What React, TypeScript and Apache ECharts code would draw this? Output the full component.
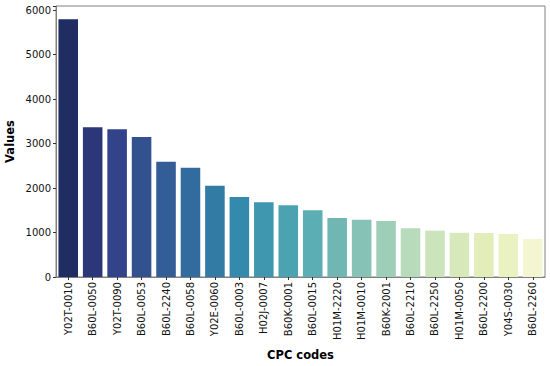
import React, { useEffect, useRef } from "react";
import * as echarts from "echarts";

const categories = [
  "Y02T-0010", "B60L-0050", "Y02T-0090", "B60L-0053", "B60L-2240",
  "B60L-0058", "Y02E-0060", "B60L-0003", "H02J-0007", "B60K-0001",
  "B60L-0015", "H01M-2220", "H01M-0010", "B60K-2001", "B60L-2210",
  "B60L-2250", "H01M-0050", "B60L-2200", "Y04S-0030", "B60L-2260",
];
const values = [
  5790, 3365, 3320, 3147, 2592, 2456, 2052, 1798, 1678, 1611,
  1499, 1326, 1288, 1258, 1094, 1041, 996, 989, 966, 854,
];
const yTicks = [0, 1000, 2000, 3000, 4000, 5000, 6000];
const xTitle = "CPC codes";
const yTitle = "Values";

// YlGnBu colormap nodes
const ylgnbu = ["#ffffd9", "#edf8b1", "#c7e9b4", "#7fcdbb", "#41b6c4", "#1d91c0", "#225ea8", "#253494", "#081d58"];

function hexToRgb(h: string) {
  return [parseInt(h.slice(1, 3), 16), parseInt(h.slice(3, 5), 16), parseInt(h.slice(5, 7), 16)];
}
function sample(t: number) {
  const p = t * (ylgnbu.length - 1);
  const i = Math.min(Math.floor(p), ylgnbu.length - 2);
  const f = p - i;
  const a = hexToRgb(ylgnbu[i]);
  const b = hexToRgb(ylgnbu[i + 1]);
  return a.map((v, k) => (v + (b[k] - v) * f) / 255);
}
function desat(rgb: number[], prop: number) {
  const [r, g, b] = rgb;
  const mx = Math.max(r, g, b), mn = Math.min(r, g, b);
  const l = (mx + mn) / 2;
  if (mx === mn) return rgb;
  const d = mx - mn;
  let s = l <= 0.5 ? d / (mx + mn) : d / (2 - mx - mn);
  let h: number;
  const rc = (mx - r) / d, gc = (mx - g) / d, bc = (mx - b) / d;
  if (r === mx) h = bc - gc;
  else if (g === mx) h = 2 + rc - bc;
  else h = 4 + gc - rc;
  h = ((h / 6) % 1 + 1) % 1;
  s *= prop;
  const m2 = l <= 0.5 ? l * (1 + s) : l + s - l * s;
  const m1 = 2 * l - m2;
  const v = (hue: number) => {
    hue = ((hue % 1) + 1) % 1;
    if (hue < 1 / 6) return m1 + (m2 - m1) * hue * 6;
    if (hue < 0.5) return m2;
    if (hue < 2 / 3) return m1 + (m2 - m1) * (2 / 3 - hue) * 6;
    return m1;
  };
  return [v(h + 1 / 3), v(h), v(h - 1 / 3)];
}
function toHex(rgb: number[]) {
  return "#" + rgb.map((v) => Math.round(v * 255).toString(16).padStart(2, "0")).join("");
}
const n = categories.length;
const colors = categories.map((_, i) => toHex(desat(sample(1 - (i + 1) / (n + 1)), 0.75)));

export default function App() {
  const ref = useRef<HTMLDivElement>(null);
  useEffect(() => {
    if (!ref.current) return;
    const chart = echarts.init(ref.current, null, { renderer: "svg" });
    chart.setOption({
      animation: false,
      backgroundColor: "#ffffff",
      textStyle: { fontFamily: "DejaVu Sans" },
      grid: {
        left: 56, right: 5, top: 6, bottom: 89,
        containLabel: false,
        outerBoundsMode: "none",
        show: true, borderColor: "#808080", borderWidth: 1,
      },
      graphic: [
        {
          type: "text",
          x: 300.5,
          y: 355,
          style: {
            text: xTitle,
            fontSize: 11.5,
            fontWeight: "bold",
            fontFamily: "DejaVu Sans",
            fill: "#000",
            align: "center",
            verticalAlign: "middle",
          },
        },
      ],
      xAxis: {
        type: "category",
        data: categories,
        boundaryGap: true,
        axisLine: { show: true, lineStyle: { color: "#808080", width: 1 } },
        axisTick: { show: true, alignWithLabel: true, length: 3, lineStyle: { color: "#333" } },
        axisLabel: { rotate: 90, fontSize: 10, color: "#111", margin: 5, interval: 0, fontFamily: "DejaVu Sans" },
      },
      yAxis: {
        type: "value",
        min: 0,
        max: 6090,
        interval: 1000,
        name: yTitle,
        nameLocation: "middle",
        nameGap: 40,
        nameMoveOverlap: false,
        nameTextStyle: { fontSize: 11.5, fontWeight: "bold", color: "#000", fontFamily: "DejaVu Sans" },
        axisLine: { show: true, lineStyle: { color: "#808080", width: 1 } },
        axisTick: { show: true, length: 3, lineStyle: { color: "#333" } },
        splitLine: { show: false },
        axisLabel: {
          fontSize: 10, color: "#111", margin: 5, fontFamily: "DejaVu Sans",
          formatter: (v: number) => (yTicks.includes(v) ? String(v) : ""),
        },
      },
      series: [
        {
          type: "bar",
          barWidth: "80%",
          data: values.map((v, i) => ({ value: v, itemStyle: { color: colors[i] } })),
        },
      ],
    });
    return () => chart.dispose();
  }, []);
  return <div ref={ref} style={{ width: 550, height: 366, position: "absolute", left: 0, top: 0 }} />;
}
